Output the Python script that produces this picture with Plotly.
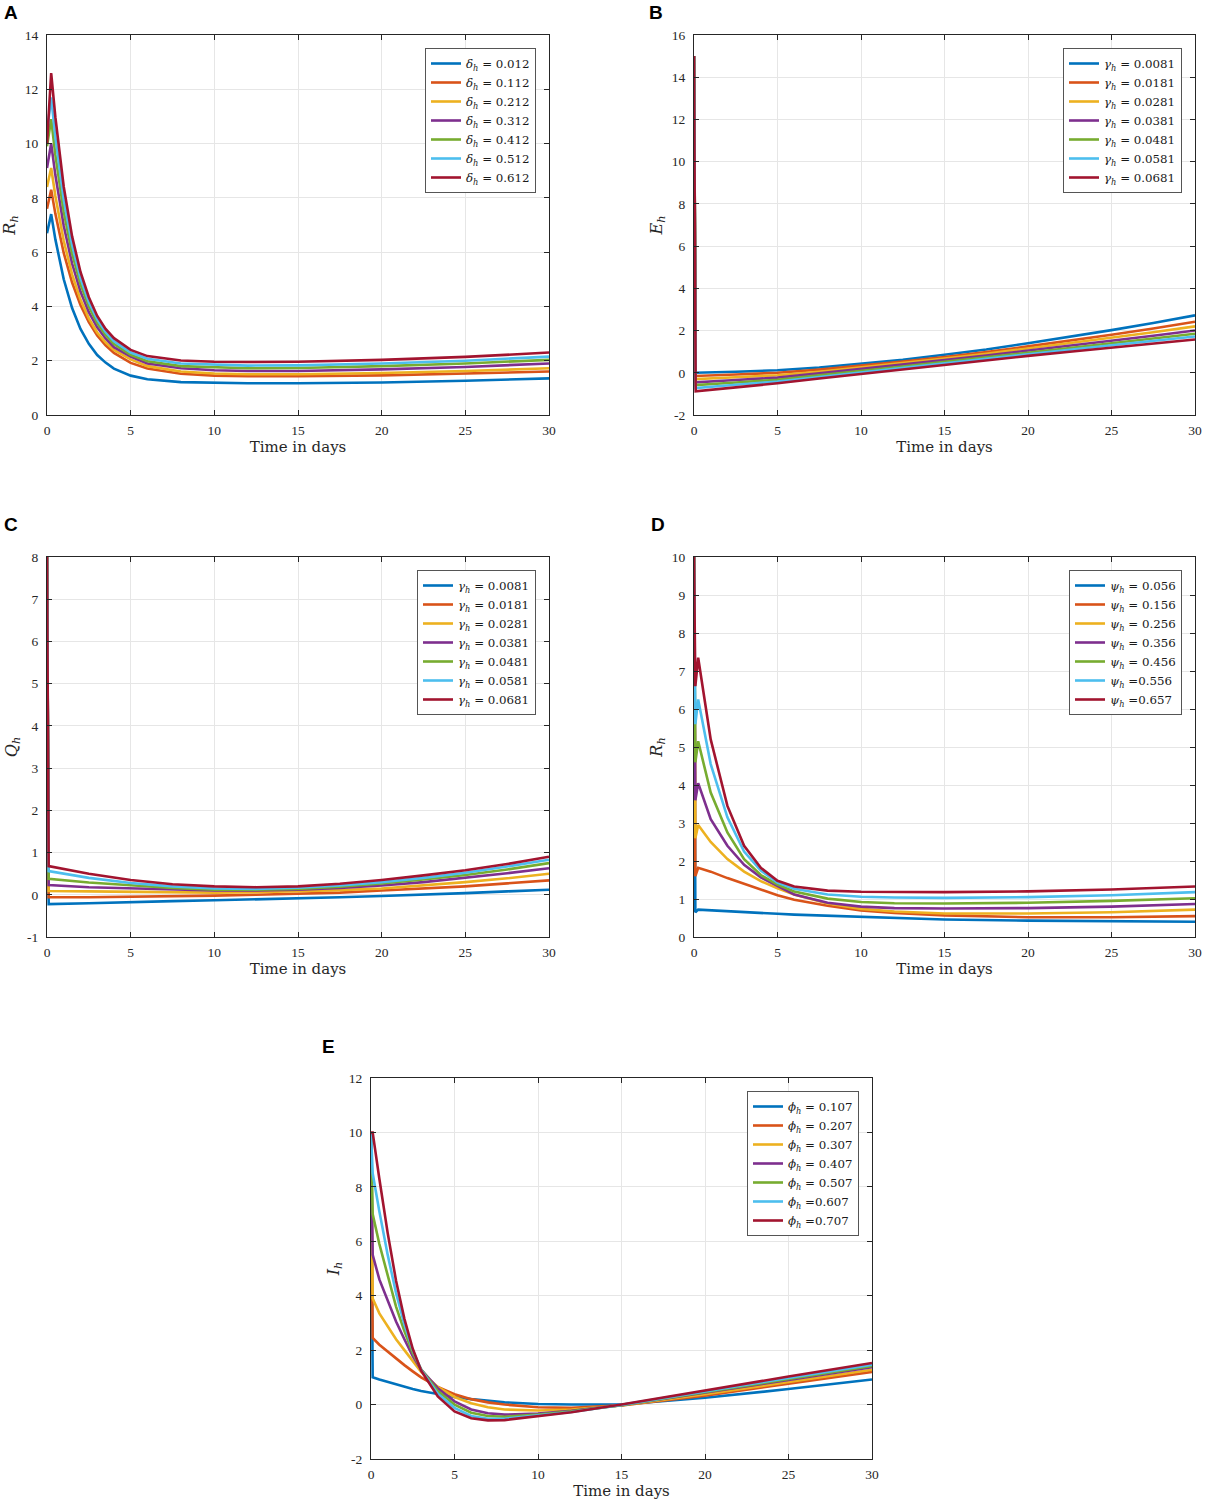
import plotly.graph_objects as go

# MATLAB default line colours, one per parameter value
colors = ["#0072BD", "#D95319", "#EDB120", "#7E2F8E", "#77AC30", "#4DBEEE", "#A2142F"]

days_ticks = [0, 5, 10, 15, 20, 25, 30]

# ---- panel A : R_h for different delta_h ----
t_a = [0, 0.25, 0.5, 1, 1.5, 2, 2.5, 3, 3.5, 4, 5, 6, 8, 10, 12, 15, 20, 25, 30]
delta_h = ["= 0.012", "= 0.112", "= 0.212", "= 0.312", "= 0.412", "= 0.512", "= 0.612"]
rh_delta = [
    [6.7, 7.4, 6.47, 5.00, 3.94, 3.17, 2.62, 2.21, 1.93, 1.71, 1.45, 1.32, 1.21, 1.18, 1.17, 1.17, 1.20, 1.26, 1.35],
    [7.6, 8.3, 7.41, 5.97, 4.88, 4.05, 3.42, 2.93, 2.57, 2.29, 1.92, 1.71, 1.52, 1.45, 1.43, 1.43, 1.46, 1.52, 1.60],
    [8.4, 9.1, 8.07, 6.42, 5.18, 4.25, 3.56, 3.04, 2.68, 2.40, 2.05, 1.80, 1.60, 1.53, 1.50, 1.50, 1.55, 1.62, 1.72],
    [9.1, 10.0, 8.84, 6.97, 5.58, 4.55, 3.79, 3.23, 2.82, 2.50, 2.15, 1.90, 1.72, 1.65, 1.62, 1.62, 1.68, 1.77, 1.90],
    [9.9, 10.9, 9.58, 7.49, 5.95, 4.82, 4.00, 3.39, 2.95, 2.62, 2.22, 1.98, 1.80, 1.75, 1.72, 1.73, 1.80, 1.90, 2.03],
    [10.4, 11.7, 10.24, 7.94, 6.26, 5.04, 4.16, 3.52, 3.06, 2.72, 2.30, 2.07, 1.90, 1.85, 1.82, 1.83, 1.90, 2.00, 2.15],
    [10.0, 12.6, 10.97, 8.41, 6.58, 5.27, 4.34, 3.65, 3.17, 2.83, 2.40, 2.17, 2.01, 1.96, 1.95, 1.96, 2.03, 2.14, 2.30],
]
ticks_a = [0, 2, 4, 6, 8, 10, 12, 14]

# ---- panel B : E_h for different gamma_h ----
t_b = [0, 0.1, 2.5, 5, 7.5, 10, 12.5, 15, 17.5, 20, 22.5, 25, 27.5, 30]
gamma_h = ["= 0.0081", "= 0.0181", "= 0.0281", "= 0.0381", "= 0.0481", "= 0.0581", "= 0.0681"]
eh_gamma = [
    [15, 0.00, 0.05, 0.12, 0.25, 0.42, 0.62, 0.85, 1.10, 1.40, 1.70, 2.02, 2.36, 2.72],
    [15, -0.15, -0.08, 0.00, 0.15, 0.33, 0.53, 0.75, 0.98, 1.25, 1.52, 1.80, 2.10, 2.42],
    [15, -0.30, -0.21, -0.12, 0.05, 0.25, 0.46, 0.68, 0.90, 1.15, 1.40, 1.65, 1.92, 2.20],
    [15, -0.45, -0.34, -0.23, -0.03, 0.17, 0.38, 0.60, 0.82, 1.05, 1.27, 1.50, 1.75, 2.00],
    [15, -0.58, -0.46, -0.33, -0.12, 0.08, 0.30, 0.52, 0.73, 0.95, 1.17, 1.40, 1.62, 1.85],
    [15, -0.72, -0.57, -0.42, -0.20, 0.02, 0.24, 0.45, 0.66, 0.88, 1.09, 1.30, 1.51, 1.72],
    [15, -0.88, -0.69, -0.50, -0.27, -0.05, 0.17, 0.38, 0.59, 0.80, 1.00, 1.20, 1.39, 1.58],
]
ticks_b = [-2, 0, 2, 4, 6, 8, 10, 12, 14, 16]

# ---- panel C : Q_h for different gamma_h ----
t_c = [0, 0.1, 2.5, 5, 7.5, 10, 12.5, 15, 17.5, 20, 22.5, 25, 27.5, 30]
qh_gamma = [
    [8, -0.22, -0.20, -0.17, -0.15, -0.13, -0.11, -0.08, -0.06, -0.03, 0.00, 0.04, 0.08, 0.12],
    [8, -0.06, -0.06, -0.05, -0.04, -0.02, 0.00, 0.02, 0.05, 0.10, 0.15, 0.20, 0.27, 0.34],
    [8, 0.09, 0.08, 0.07, 0.06, 0.05, 0.06, 0.08, 0.11, 0.15, 0.22, 0.30, 0.39, 0.50],
    [8, 0.23, 0.18, 0.15, 0.12, 0.10, 0.10, 0.12, 0.16, 0.22, 0.30, 0.40, 0.51, 0.63],
    [8, 0.38, 0.29, 0.22, 0.16, 0.12, 0.12, 0.14, 0.19, 0.27, 0.36, 0.47, 0.60, 0.75],
    [8, 0.56, 0.40, 0.28, 0.20, 0.15, 0.14, 0.17, 0.22, 0.30, 0.40, 0.52, 0.67, 0.83],
    [8, 0.68, 0.50, 0.35, 0.25, 0.20, 0.18, 0.20, 0.26, 0.35, 0.46, 0.58, 0.73, 0.90],
]
ticks_c = [-1, 0, 1, 2, 3, 4, 5, 6, 7, 8]

# ---- panel D : R_h for different psi_h ----
t_d = [0, 0.08, 0.25, 1, 2, 3, 4, 5, 6, 8, 10, 12, 15, 20, 25, 30]
psi_h = ["= 0.056", "= 0.156", "= 0.256", "= 0.356", "= 0.456", "=0.556", "=0.657"]
rh_psi = [
    [10, 0.65, 0.72, 0.70, 0.68, 0.65, 0.63, 0.61, 0.59, 0.56, 0.52, 0.50, 0.46, 0.43, 0.41, 0.40],
    [10, 1.60, 1.82, 1.72, 1.55, 1.40, 1.25, 1.10, 0.98, 0.82, 0.70, 0.63, 0.57, 0.52, 0.52, 0.55],
    [10, 2.60, 2.95, 2.50, 2.05, 1.72, 1.47, 1.28, 1.12, 0.88, 0.74, 0.67, 0.62, 0.62, 0.65, 0.72],
    [10, 3.60, 4.05, 3.10, 2.40, 1.90, 1.57, 1.35, 1.12, 0.90, 0.80, 0.76, 0.75, 0.76, 0.80, 0.87],
    [10, 4.60, 5.15, 3.80, 2.75, 2.05, 1.63, 1.38, 1.20, 1.01, 0.92, 0.89, 0.88, 0.90, 0.95, 1.02],
    [10, 5.60, 6.25, 4.55, 3.15, 2.25, 1.75, 1.43, 1.27, 1.12, 1.06, 1.04, 1.03, 1.05, 1.10, 1.18],
    [10, 6.60, 7.35, 5.20, 3.45, 2.40, 1.82, 1.48, 1.33, 1.22, 1.19, 1.18, 1.18, 1.20, 1.25, 1.33],
]
ticks_d = [0, 1, 2, 3, 4, 5, 6, 7, 8, 9, 10]

# ---- panel E : I_h for different phi_h ----
t_e = [0, 0.1, 0.5, 1, 1.5, 2, 2.5, 3, 4, 5, 6, 7, 8, 10, 12, 15, 20, 25, 30]
phi_h = ["= 0.107", "= 0.207", "= 0.307", "= 0.407", "= 0.507", "=0.607", "=0.707"]
ih_phi = [
    [10, 1.00, 0.92, 0.83, 0.74, 0.65, 0.57, 0.50, 0.38, 0.28, 0.20, 0.13, 0.08, 0.02, 0.00, 0.00, 0.25, 0.57, 0.92],
    [10, 2.45, 2.20, 1.95, 1.68, 1.45, 1.22, 1.00, 0.65, 0.38, 0.20, 0.08, 0.00, -0.10, -0.12, -0.03, 0.33, 0.77, 1.20],
    [10, 3.90, 3.35, 2.85, 2.40, 2.00, 1.60, 1.20, 0.65, 0.28, 0.05, -0.10, -0.18, -0.22, -0.18, -0.03, 0.38, 0.83, 1.28],
    [10, 5.50, 4.60, 3.80, 3.05, 2.40, 1.78, 1.28, 0.60, 0.12, -0.18, -0.32, -0.37, -0.33, -0.23, -0.02, 0.43, 0.90, 1.37],
    [10, 7.00, 5.90, 4.70, 3.60, 2.70, 1.90, 1.30, 0.50, 0.00, -0.30, -0.42, -0.45, -0.37, -0.25, -0.02, 0.46, 0.94, 1.42],
    [10, 8.50, 7.10, 5.50, 4.10, 2.95, 2.00, 1.28, 0.40, -0.12, -0.42, -0.52, -0.52, -0.40, -0.27, -0.01, 0.49, 0.98, 1.47],
    [10, 10.0, 8.30, 6.30, 4.55, 3.15, 2.05, 1.25, 0.30, -0.25, -0.50, -0.58, -0.57, -0.43, -0.28, 0.00, 0.52, 1.03, 1.53],
]
ticks_e = [-2, 0, 2, 4, 6, 8, 10, 12]

W, H = 1206, 1506
SERIF = "Liberation Serif"
WIDE_SERIF = "DejaVu Serif"
INK = "#262626"
fig = go.Figure()


def px_x(p):
    return p / W


def px_y(p):
    return 1 - p / H


def sym(s):
    return "<i>%s</i><sub><i>h</i></sub>" % s


def add_panel(n, letter, box, t, series, greek, values, ytitle, yticks, legend_right, letter_xy):
    x0, x1, y0, y1 = box
    sfx = "" if n == 1 else str(n)
    for i, ys in enumerate(series):
        fig.add_trace(go.Scatter(
            x=t, y=ys, mode="lines",
            name=sym(greek) + "&nbsp;" + values[i].replace(" ", "&nbsp;"),
            line=dict(color=colors[i], width=2.6),
            xaxis="x" + sfx, yaxis="y" + sfx, legend="legend" + sfx, hoverinfo="skip",
        ))
    axis_common = dict(
        showline=True, linecolor=INK, linewidth=1, mirror="ticks",
        ticks="inside", ticklen=5, tickcolor=INK,
        showgrid=True, gridcolor="#e6e6e6", gridwidth=1, zeroline=False,
        tickfont=dict(family=SERIF, size=13.5, color=INK),
        automargin=False, ticklabeloverflow="allow",
    )
    fig.layout["xaxis" + sfx] = dict(
        axis_common, domain=[px_x(x0), px_x(x1)], anchor="y" + sfx, range=[0, 30],
        tickvals=days_ticks, ticktext=[str(v) for v in days_ticks], ticklabelstandoff=3,
        title=dict(text="Time in days", font=dict(family=WIDE_SERIF, size=15, color=INK), standoff=2),
    )
    fig.layout["yaxis" + sfx] = dict(
        axis_common, domain=[px_y(y1), px_y(y0)], anchor="x" + sfx,
        range=[yticks[0], yticks[-1]], ticklabelstandoff=5,
        tickvals=yticks, ticktext=[str(v) for v in yticks],
        title=dict(text=sym(ytitle), font=dict(family=WIDE_SERIF, size=16, color=INK), standoff=5),
    )
    fig.layout["legend" + sfx] = dict(
        x=px_x(legend_right), y=px_y(y0 + 13), xanchor="right", yanchor="top",
        bgcolor="white", bordercolor="#555555", borderwidth=1,
        font=dict(family=WIDE_SERIF, size=11.8, color="#1a1a1a"),
        tracegroupgap=0, itemwidth=30,
    )
    fig.add_annotation(
        x=px_x(letter_xy[0]), y=px_y(letter_xy[1]), xref="paper", yref="paper",
        xanchor="center", yanchor="middle",
        text="<b>%s</b>" % letter, showarrow=False,
        font=dict(family="Liberation Sans", size=19, color="black"),
    )


add_panel(1, "A", (47, 549, 35, 415), t_a, rh_delta, "δ", delta_h, "R", ticks_a, 536, (11, 13))
add_panel(2, "B", (694, 1195, 35, 415), t_b, eh_gamma, "γ", gamma_h, "E", ticks_b, 1182, (656, 13))
add_panel(3, "C", (47, 549, 557, 937), t_c, qh_gamma, "γ", gamma_h, "Q", ticks_c, 536, (11, 524))
add_panel(4, "D", (694, 1195, 557, 937), t_d, rh_psi, "ψ", psi_h, "R", ticks_d, 1182, (658, 524))
add_panel(5, "E", (371, 872, 1078, 1459), t_e, ih_phi, "ϕ", phi_h, "I", ticks_e, 859, (328, 1046))

fig.update_layout(
    width=W, height=H,
    margin=dict(l=0, r=0, t=0, b=0),
    paper_bgcolor="white", plot_bgcolor="white",
    showlegend=True,
)

# drop the browser's default 8px body margin so the figure fills the window
fig.write_html("out.html", config={"displayModeBar": False},
               post_script="document.body.style.margin='0';")
